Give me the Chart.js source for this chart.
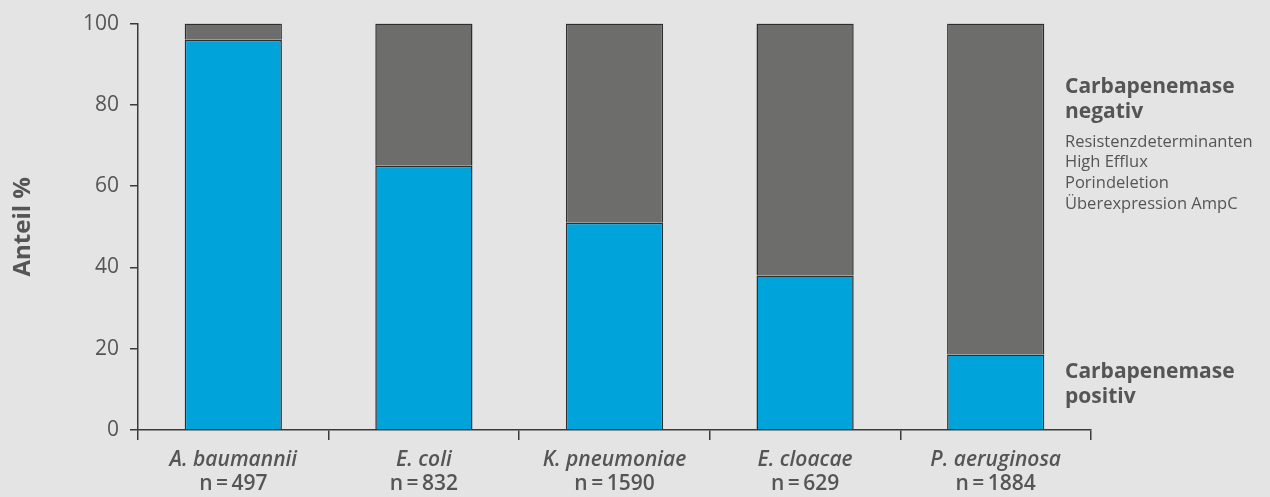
<!DOCTYPE html>
<html lang="de">
<head>
  <meta charset="UTF-8" />
  <title>Carbapenemase</title>
  <script src="https://cdn.jsdelivr.net/npm/chart.js"></script>
  <style>
    html, body {
      margin: 0;
      padding: 0;
      background: #e4e4e4;
    }

    .box {
      width: 1270px;
      height: 497px;
    }
  </style>
</head>
<body>
  <div class="box">
    <canvas id="chart" width="1270" height="497"></canvas>
  </div>

  <script>
    // Daten
    const erreger = ['A. baumannii', 'E. coli', 'K. pneumoniae', 'E. cloacae', 'P. aeruginosa'];
    const anzahl = [497, 832, 1590, 629, 1884];
    const positiv = [96, 65, 51, 38, 18.6];
    const negativ = [4, 35, 49, 62, 81.4];
    const yTicks = [0, 20, 40, 60, 80, 100];

    const schrift = "'Open Sans', 'Noto Sans', sans-serif";
    const textFarbe = '#555555';
    const achsenFarbe = '#3a3a3a';

    // Beschriftungen unter der x-Achse (kursiv + n) und rechts
    const textPlugin = {
      id: 'texte',
      afterDraw(chart) {
        const ctx = chart.ctx;
        const x = chart.scales.x;
        ctx.save();
        ctx.fillStyle = textFarbe;
        ctx.textAlign = 'center';
        ctx.textBaseline = 'middle';
        erreger.forEach((name, i) => {
          const px = x.getPixelForValue(i);
          ctx.font = 'italic 600 21px ' + schrift;
          ctx.fillText(name, px, 460);
          ctx.font = '600 21px ' + schrift;
          ctx.fillText('n\u2009=\u2009' + anzahl[i], px, 484);
        });

        const lx = 1065;
        ctx.textAlign = 'left';
        ctx.font = 'bold 21px ' + schrift;
        ctx.fillText('Carbapenemase', lx, 87);
        ctx.fillText('negativ', lx, 112);
        ctx.font = '16.5px ' + schrift;
        ['Resistenzdeterminanten', 'High Efflux', 'Porindeletion', 'Überexpression AmpC']
          .forEach((t, i) => ctx.fillText(t, lx, 142 + i * 20.7));
        ctx.font = 'bold 21px ' + schrift;
        ctx.fillText('Carbapenemase', lx, 372);
        ctx.fillText('positiv', lx, 397);
        ctx.restore();
      }
    };

    new Chart(document.getElementById('chart'), {
      type: 'bar',
      data: {
        labels: erreger,
        datasets: [
          {
            label: 'Carbapenemase positiv',
            data: positiv,
            backgroundColor: '#00a3da',
            borderColor: '#2e2e2e',
            borderWidth: 1.5,
            barPercentage: 0.51,
            categoryPercentage: 1
          },
          {
            label: 'Carbapenemase negativ',
            data: negativ,
            backgroundColor: '#6d6d6b',
            borderColor: '#2e2e2e',
            borderWidth: 1.5,
            barPercentage: 0.51,
            categoryPercentage: 1
          }
        ]
      },
      options: {
        responsive: false,
        animation: false,
        layout: {
          padding: { left: 9, top: 23, right: 179, bottom: 0 }
        },
        plugins: {
          legend: { display: false },
          tooltip: { enabled: false }
        },
        scales: {
          x: {
            stacked: true,
            offset: true,
            border: { color: achsenFarbe, width: 1.5 },
            grid: {
              drawOnChartArea: false,
              color: achsenFarbe,
              lineWidth: 1.5,
              tickLength: 10
            },
            ticks: { callback: () => '' },
            afterFit(scale) { scale.height = 67; }
          },
          y: {
            stacked: true,
            min: 0,
            max: 100,
            afterBuildTicks(scale) {
              scale.ticks = yTicks.map(v => ({ value: v }));
            },
            border: { color: achsenFarbe, width: 1.5 },
            grid: {
              drawOnChartArea: false,
              color: achsenFarbe,
              lineWidth: 1.5,
              tickLength: 8
            },
            ticks: {
              color: textFarbe,
              font: { family: schrift, size: 21 },
              padding: 11
            },
            title: {
              display: true,
              text: 'Anteil %',
              color: textFarbe,
              font: { family: schrift, size: 24, weight: 'bold' },
              padding: { top: 0, bottom: 0 }
            },
            afterFit(scale) { scale.width = 129; }
          }
        }
      },
      plugins: [textPlugin]
    });
  </script>
</body>
</html>
